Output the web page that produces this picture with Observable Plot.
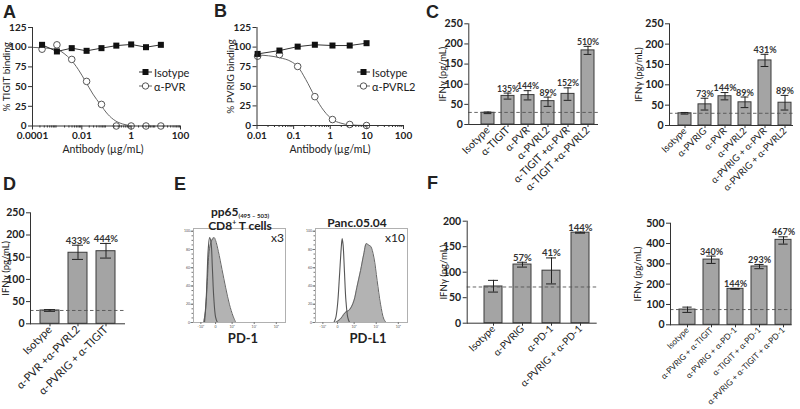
<!DOCTYPE html>
<html><head><meta charset="utf-8">
<script src="https://cdn.jsdelivr.net/npm/d3@7"></script>
<script src="https://cdn.jsdelivr.net/npm/@observablehq/plot@0.6"></script>
<style>
body{margin:0;background:#fff;}
#fig{position:relative;width:800px;height:409px;overflow:hidden;font-family:Lato,"Open Sans",sans-serif;color:#222;background:#fff;}
#fig svg{position:absolute;}
.t{position:absolute;white-space:nowrap;line-height:1;}
</style></head><body><div id="fig"></div>
<script>
// ---------- Panel A data ----------
const concA = [0.000244, 0.000977, 0.0039, 0.0156, 0.0625, 0.25, 1, 4, 16];
const isotypeA = [103, 94.6, 98.8, 95.4, 98.8, 102, 103.5, 100, 103];
const antiPVR_A = [97.5, 103, 84.5, 56.6, 27.4, 0, 0, 0, 0];
const fitA_x = [0.00011, 0.00089, 0.0019, 0.0035, 0.0071, 0.0141, 0.0282, 0.0562, 0.112, 0.224, 0.457, 1.0];
const fitA_y = [99.7, 97.5, 92, 84.5, 72, 56.6, 40.5, 27.4, 15, 6.8, 2.5, 0.4];
const ticksA = [0.0001, 0.01, 1, 100];
const tickLabelsA = ["0.0001", "0.01", "1", "100"];
// ---------- Panel B data ----------
const concB = [0.0104, 0.041, 0.129, 0.38, 1.15, 3.4, 9.8];
const isotypeB = [91.3, 95.6, 100.6, 103, 102, 102, 105];
const antiPVRL2_B = [88.4, 90.5, 75.3, 36.8, 7.6, 1.3, 0];
const fitB_x = [0.0105, 0.041, 0.085, 0.129, 0.214, 0.38, 0.676, 1.15, 1.95, 3.39, 9.8];
const fitB_y = [90, 86.5, 81.6, 75.3, 58.8, 36.8, 18.6, 7.6, 3, 0.8, 0];
const ticksB = [0.01, 0.1, 1, 10, 100];
const tickLabelsB = ["0.01", "0.1", "1", "10", "100"];
const bindingTicks = [0, 25, 50, 75, 100, 125];
// ---------- Panel C data ----------
const catsC1 = ["Isotype", "α-TIGIT", "α-PVR", "α-PVRL2", "α-TIGIT +α-PVR", "α-TIGIT +α-PVRL2"];
const valC1 = [29, 71, 73, 58, 76, 184];
const loC1 = [27, 63, 61, 45, 60, 174];
const hiC1 = [31, 78, 84, 68, 91, 194];
const pctC1 = ["", "135%", "144%", "89%", "152%", "510%"];
const catsC2 = ["Isotype", "α-PVRIG", "α-PVR", "α-PVRL2", "α-PVRIG + α-PVR", "α-PVRIG + α-PVRL2"];
const valC2 = [30, 52, 72, 57, 160, 56];
const loC2 = [28, 38, 63, 44, 145, 38];
const hiC2 = [32, 67, 81, 70, 175, 74];
const pctC2 = ["", "73%", "144%", "89%", "431%", "89%"];
const ticksC = [0, 50, 100, 150, 200, 250];
// ---------- Panel D data ----------
const catsD = ["Isotype", "α-PVR +α-PVRL2", "α-PVRIG + α-TIGIT"];
const valD = [30, 160, 163.5];
const loD = [28, 145, 148];
const hiD = [32, 177, 181];
const pctD = ["", "433%", "444%"];
// ---------- Panel E data (histograms, x in % of display width) ----------
const histL_fill_x = [11, 13, 15, 17, 19, 21, 22.5, 24, 27, 31, 35, 39, 43, 46];
const histL_fill_y = [0, 12, 45, 78, 88, 92, 93, 90, 78, 58, 38, 20, 7, 0];
const histL_iso_x = [12, 14, 16, 17.5, 19, 20.5, 22, 24, 26];
const histL_iso_y = [0, 30, 80, 93, 88, 60, 28, 6, 0];
const histR_fill_x = [21.7, 27, 30.8, 33.3, 36, 39, 42, 45, 49, 52.5, 55.4, 58, 60, 63.4, 67, 70.7, 74.3, 76.8];
const histR_fill_y = [0, 3.7, 9, 11.8, 13, 17, 24.6, 38.6, 57, 75, 86.5, 84.6, 83.5, 71.7, 46, 20, 3.7, 0];
const histR_iso_x = [20, 22, 24, 26, 28, 29, 30, 31.5, 33, 35, 37];
const histR_iso_y = [0, 5, 20, 50, 82, 92, 85, 55, 25, 6, 0];
const histTicksY = [0, 20, 40, 60, 80, 100];
const histTicksX = [8, 24, 42, 66, 90];
const histTickLabelsX = ["-10³", "0", "10³", "10⁴", "10⁵"];
// ---------- Panel F data ----------
const catsF1 = ["Isotype", "α-PVRIG", "α-PD-1", "α-PVRIG + α-PD-1"];
const valF1 = [72, 115, 103, 177.5];
const loF1 = [61, 110, 77, 176.5];
const hiF1 = [84, 119.5, 128, 178.5];
const pctF1 = ["", "57%", "41%", "144%"];
const ticksF1 = [0, 50, 100, 150, 200];
const catsF2 = ["Isotype", "α-PVRIG + α-TIGIT", "α-PVRIG + α-PD-1", "α-TIGIT + α-PD-1", "α-PVRIG + α-TIGIT + α-PD-1"];
const valF2 = [75, 321, 177, 287, 418];
const loF2 = [61, 302, 175, 276, 397];
const hiF2 = [87, 338, 179, 297, 433];
const pctF2 = ["", "340%", "144%", "293%", "467%"];
const ticksF2 = [0, 100, 200, 300, 400, 500];

const fig = document.getElementById("fig");
const FONT = 'Lato, "Open Sans", sans-serif';
function put(svg, left, top) { svg.style.left = left + "px"; svg.style.top = top + "px"; fig.appendChild(svg); }
function txt(html, x, y, o = {}) {
  const d = document.createElement("div");
  d.className = "t";
  d.innerHTML = html;
  d.style.left = x + "px"; d.style.top = y + "px";
  d.style.fontSize = (o.size || 10) + "px";
  d.style.fontWeight = o.weight || "normal";
  if (o.family) d.style.fontFamily = o.family;
  const tx = o.anchor === "middle" ? -50 : o.anchor === "end" ? -100 : 0;
  d.style.transform = `translate(${tx}%,-50%)`;
  fig.appendChild(d);
}
function minorTicks(lo, hi) {
  const out = [];
  for (let e = Math.round(Math.log10(lo)); e < Math.round(Math.log10(hi)); e++)
    for (let k = 2; k <= 9; k++) out.push(k * Math.pow(10, e));
  return out;
}
const baseStyle = {background: "transparent", overflow: "visible", fontFamily: FONT, color: "#222"};
function yTitle(label, dx, size) {
  return Plot.text([label], {frameAnchor: "left", textAnchor: "middle", dx, rotate: -90, text: d => d, fontSize: size || 9.5, fill: "#222"});
}

function curvePanel(o) {
  const pts = o.conc.map((c, i) => ({c, iso: o.iso[i], anti: o.anti[i]}));
  const fit = o.fx.map((x, i) => ({x, y: o.fy[i]}));
  return Plot.plot({
    width: o.w, height: o.h,
    marginLeft: o.axisX - o.left, marginRight: o.left + o.w - o.axisEnd,
    marginTop: o.yTop - o.top, marginBottom: o.top + o.h - o.y0,
    style: baseStyle,
    x: {type: "log", domain: o.domain},
    y: {domain: [0, 125]},
    marks: [
      Plot.line(fit, {x: "x", y: "y", curve: "monotone-x", stroke: "#666", strokeWidth: 1}),
      Plot.line(pts, {x: "c", y: "iso", stroke: "#333", strokeWidth: 1}),
      Plot.dot(pts, {x: "c", y: "anti", r: 3.3, stroke: "#555", strokeWidth: 1, fill: "white"}),
      Plot.dot(pts, {x: "c", y: "iso", symbol: "square", r: 3.4, fill: "#111"}),
      Plot.frame({anchor: "left", stroke: "#333"}),
      Plot.ruleY([0], {stroke: "#333"}),
      Plot.axisX({ticks: minorTicks(o.domain[0], o.domain[1]), tickSize: 2, tickFormat: () => "", label: null, stroke: "#333"}),
      Plot.axisX({ticks: o.ticks, tickSize: 4, tickPadding: 2, tickFormat: d => o.tickLabels[o.ticks.indexOf(d)], fontSize: 10, fontWeight: "bold", label: null, stroke: "#333"}),
      Plot.axisY({ticks: bindingTicks, tickSize: 4, tickPadding: 2, fontSize: 10, fontWeight: "bold", label: null, stroke: "#333"}),
      yTitle(o.ytitle, o.titleX - o.axisX, 10)
    ]
  });
}

function barPanel(o) {
  const n = o.cats.length;
  const step = (o.lastC - o.firstC) / (n - 1);
  const pi = 1 - o.bw / step;
  const data = o.cats.map((c, i) => ({c, v: o.vals[i], lo: o.lo[i], hi: o.hi[i], p: o.pct[i]}));
  const ci = (o.bw - o.cap) / 2;
  return Plot.plot({
    width: o.w, height: o.h,
    marginLeft: o.axisX - o.left, marginRight: o.left + o.w - o.axisEnd,
    marginTop: o.yTop - o.top, marginBottom: o.top + o.h - o.y0,
    style: baseStyle,
    x: {type: "band", domain: o.cats, range: [o.firstC - step / 2 - o.left, o.lastC + step / 2 - o.left], paddingInner: pi, paddingOuter: pi / 2},
    y: {domain: [0, o.yMax]},
    marks: [
      Plot.barY(data, {x: "c", y: "v", fill: "#a4a4a4", stroke: "#3a3a3a", strokeWidth: 1}),
      Plot.ruleY([o.base], {stroke: "#555", strokeDasharray: "3.5,2.5", strokeWidth: 0.9}),
      Plot.ruleX(data, {x: "c", y1: "lo", y2: "hi", stroke: "#222", strokeWidth: 1}),
      Plot.tickY(data, {x: "c", y: "hi", insetLeft: ci, insetRight: ci, stroke: "#222", strokeWidth: 1}),
      Plot.tickY(data, {x: "c", y: "lo", insetLeft: ci, insetRight: ci, stroke: "#222", strokeWidth: 1}),
      Plot.text(data.filter(d => d.p), {x: "c", y: "hi", text: "p", dy: -1.5, lineAnchor: "bottom", fontSize: o.pctSize || 9.5, fontWeight: "bold", fill: "#333"}),
      Plot.frame({anchor: "left", stroke: "#333"}),
      Plot.ruleY([0], {stroke: "#333"}),
      Plot.axisY({ticks: o.ticks, tickSize: 4, tickPadding: 2, fontSize: 10.5, fontWeight: "bold", label: null, stroke: "#333"}),
      Plot.axisX({tickSize: 3, tickPadding: 1, tickRotate: -45, fontSize: o.xSize, label: null, stroke: "#333", fill: "#222"}),
      yTitle("IFNγ (pg/mL)", o.titleX - o.axisX, 9.5)
    ]
  });
}

function histPanel(o) {
  const fill = o.fx.map((x, i) => ({x, y: o.fy[i]}));
  const iso = o.ix.map((x, i) => ({x, y: o.iy[i]}));
  const minorY = d3.range(0, 101, 5);
  return Plot.plot({
    width: o.w, height: o.h,
    marginLeft: o.fl - o.left, marginRight: o.left + o.w - o.fr,
    marginTop: o.ft - o.top, marginBottom: o.top + o.h - o.fb,
    style: baseStyle,
    x: {domain: [0, 100]},
    y: {domain: [0, 103]},
    marks: [
      Plot.areaY(fill, {x: "x", y: "y", curve: "catmull-rom", fill: "#b3b3b3"}),
      Plot.lineY(fill, {x: "x", y: "y", curve: "catmull-rom", stroke: "#666", strokeWidth: 1}),
      Plot.lineY(iso, {x: "x", y: "y", curve: "catmull-rom", stroke: "#555", strokeWidth: 1.1}),
      Plot.frame({stroke: "#b0b0b0"}),
      Plot.axisY({ticks: minorY, tickSize: 1.5, tickFormat: () => "", label: null, stroke: "#777"}),
      Plot.axisY({ticks: histTicksY, tickSize: 2.5, tickPadding: 1, fontSize: 3.5, label: null, stroke: "#777", fill: "#555"}),
      Plot.axisX({ticks: histTicksX, tickSize: 2, tickPadding: 1, fontSize: 3.5, tickFormat: d => histTickLabelsX[histTicksX.indexOf(d)], label: null, stroke: "#777", fill: "#555"})
    ]
  });
}

// ---- A ----
put(curvePanel({left: 0, top: 0, w: 190, h: 165, axisX: 32, axisEnd: 180, yTop: 27, y0: 125.5, titleX: 6, ytitle: "% TIGIT binding",
  domain: [0.0001, 100], conc: concA, iso: isotypeA, anti: antiPVR_A, fx: fitA_x, fy: fitA_y, ticks: ticksA, tickLabels: tickLabelsA}), 0, 0);
// ---- B ----
put(curvePanel({left: 190, top: 0, w: 220, h: 165, axisX: 256.5, axisEnd: 403, yTop: 27, y0: 125, titleX: 230, ytitle: "% PVRIG binding",
  domain: [0.01, 100], conc: concB, iso: isotypeB, anti: antiPVRL2_B, fx: fitB_x, fy: fitB_y, ticks: ticksB, tickLabels: tickLabelsB}), 190, 0);
// ---- C ----
put(barPanel({left: 400, top: 0, w: 200, h: 200, axisX: 468.3, axisEnd: 598, yTop: 23.3, y0: 124, yMax: 250, titleX: 442, xSize: 10.5,
  firstC: 485.7, lastC: 589.3, bw: 13.3, cap: 8, cats: catsC1, vals: valC1, lo: loC1, hi: hiC1, pct: pctC1, base: 30, ticks: ticksC, pctSize: 8.7}), 400, 0);
put(barPanel({left: 595, top: 0, w: 205, h: 200, axisX: 669, axisEnd: 793, yTop: 23.3, y0: 125, yMax: 250, titleX: 638, xSize: 9.5,
  firstC: 683.3, lastC: 786, bw: 13.3, cap: 8, cats: catsC2, vals: valC2, lo: loC2, hi: hiC2, pct: pctC2, base: 30, ticks: ticksC, pctSize: 9}), 595, 0);
// ---- D ----
put(barPanel({left: 0, top: 200, w: 190, h: 209, axisX: 30, axisEnd: 125, yTop: 212.3, y0: 323.3, yMax: 250, titleX: 5, xSize: 11,
  firstC: 49, lastC: 105.3, bw: 19, cap: 11, cats: catsD, vals: valD, lo: loD, hi: hiD, pct: pctD, base: 30, ticks: ticksC}), 0, 200);
// ---- E ----
put(histPanel({left: 180, top: 220, w: 110, h: 110, fl: 193, fr: 285, ft: 228, fb: 322,
  fx: histL_fill_x, fy: histL_fill_y, ix: histL_iso_x, iy: histL_iso_y}), 180, 220);
put(histPanel({left: 300, top: 220, w: 115, h: 110, fl: 315, fr: 407, ft: 228, fb: 322,
  fx: histR_fill_x, fy: histR_fill_y, ix: histR_iso_x, iy: histR_iso_y}), 300, 220);
// ---- F ----
put(barPanel({left: 400, top: 200, w: 200, h: 209, axisX: 466.7, axisEnd: 596.7, yTop: 220.7, y0: 322.7, yMax: 200, titleX: 443, xSize: 10,
  firstC: 492, lastC: 581.7, bw: 19, cap: 11, cats: catsF1, vals: valF1, lo: loF1, hi: hiF1, pct: pctF1, base: 71, ticks: ticksF1}), 400, 200);
put(barPanel({left: 595, top: 200, w: 205, h: 209, axisX: 670, axisEnd: 791.7, yTop: 222.7, y0: 324.3, yMax: 500, titleX: 637, xSize: 8.3,
  firstC: 686, lastC: 783, bw: 15.7, cap: 9, cats: catsF2, vals: valF2, lo: loF2, hi: hiF2, pct: pctF2, base: 75, ticks: ticksF2, pctSize: 9}), 595, 200);

// ---- panel letters ----
const LF = '"Liberation Sans", Arial, sans-serif';
[["A", 3, 12], ["B", 214, 11], ["C", 426, 12], ["D", 3, 184], ["E", 174, 184], ["F", 427, 183]]
  .forEach(([l, x, y]) => txt(l, x, y, {size: 18, weight: "bold", family: LF}));

// ---- x axis titles ----
txt("Antibody (µg/mL)", 103, 149, {size: 10.5, anchor: "middle"});
txt("Antibody (µg/mL)", 330, 149, {size: 10.5, anchor: "middle"});

// ---- legends ----
function legendRow(x, y, kind, label) {
  const s = d3.create("svg").attr("width", 14).attr("height", 10)
    .style("left", x + "px").style("top", (y - 5) + "px");
  s.append("line").attr("x1", 0).attr("x2", 13).attr("y1", 5).attr("y2", 5).attr("stroke", kind === "square" ? "#333" : "#666");
  if (kind === "square") s.append("rect").attr("x", 3.5).attr("y", 2).attr("width", 6).attr("height", 6).attr("fill", "#111");
  else s.append("circle").attr("cx", 6.5).attr("cy", 5).attr("r", 3.2).attr("fill", "white").attr("stroke", "#555");
  fig.appendChild(s.node());
  txt(label, x + 15, y, {size: 11});
}
legendRow(139, 72, "square", "Isotype");
legendRow(139, 86, "circle", "α-PVR");
legendRow(357, 72, "square", "Isotype");
legendRow(357, 86, "circle", "α-PVRL2");

// ---- panel E texts ----
txt('pp65<sub style="font-size:6px;vertical-align:-2px">(495 – 503)</sub>', 240, 212, {size: 12, weight: "bold", anchor: "middle"});
txt('CD8<sup style="font-size:7px">+</sup> T cells', 240, 225, {size: 12, weight: "bold", anchor: "middle"});
txt("Panc.05.04", 357, 223, {size: 12, weight: "bold", anchor: "middle"});
txt("x3", 284, 238, {size: 12, anchor: "end"});
txt("x10", 405, 238, {size: 12, anchor: "end"});
txt("PD-1", 243, 338, {size: 13, weight: "bold", anchor: "middle"});
txt("PD-L1", 368, 338, {size: 13, weight: "bold", anchor: "middle"});
</script></body></html>
